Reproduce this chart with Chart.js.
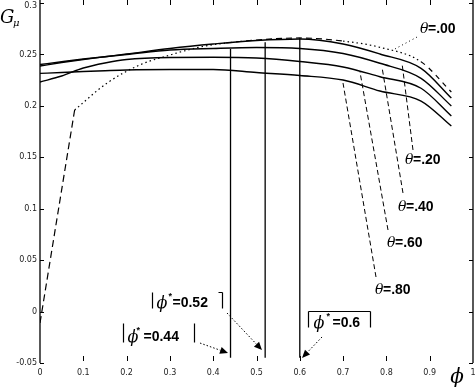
<!DOCTYPE html>
<html>
<head>
<meta charset="utf-8">
<script src="https://cdn.jsdelivr.net/npm/chart.js@4.4.0/dist/chart.umd.min.js"></script>
<style>
  html, body { margin: 0; padding: 0; background: #fff; }
  #wrap { position: relative; width: 476px; height: 387px; }
</style>
</head>
<body>
<div id="wrap"><canvas id="gmuChart"></canvas></div>
<script>
// phi grid used by the theta = .20 ... .80 curves
const phi = [0, 0.05, 0.1, 0.15, 0.2, 0.3, 0.4, 0.5, 0.6, 0.7, 0.785, 0.88, 0.95];
const g20 = [0.2387, 0.2421, 0.2451, 0.2478, 0.2504, 0.2558, 0.2601, 0.2635, 0.2650, 0.2601, 0.2504, 0.2365, 0.2076];
const g40 = [0.2402, 0.2429, 0.2455, 0.2478, 0.2499, 0.2543, 0.2558, 0.2567, 0.2558, 0.2509, 0.2414, 0.2268, 0.1999];
const g60 = [0.2232, 0.2290, 0.2368, 0.2417, 0.2451, 0.2470, 0.2472, 0.2465, 0.2431, 0.2378, 0.2283, 0.2171, 0.1901];
const g80 = [0.2316, 0.2324, 0.2334, 0.2342, 0.2349, 0.2353, 0.2353, 0.2324, 0.2295, 0.2251, 0.2144, 0.2047, 0.1804];

// theta = .00 has its own grid (straight steep rise up to phi = 0.08)
const phi00 = [0, 0.08, 0.155, 0.23, 0.3, 0.37, 0.43, 0.5, 0.6, 0.7, 0.785, 0.88, 0.95];
const g00 = [-0.0111, 0.1960, 0.2222, 0.2397, 0.2494, 0.2572, 0.2611, 0.2640, 0.2660, 0.2630, 0.2569, 0.2429, 0.2135];

// optimal phi markers
const phiStar = [0.44, 0.52, 0.6];
const phiStarTop = [0.2553, 0.2618, 0.2660];
const phiStarBottom = -0.045;

const xTicks = [0, 0.1, 0.2, 0.3, 0.4, 0.5, 0.6, 0.7, 0.8, 0.9, 1];
const xTickLabels = ['0', '0.1', '0.2', '0.3', '0.4', '0.5', '0.6', '0.7', '0.8', '0.9', '1'];
const yTicks = [-0.05, 0, 0.05, 0.1, 0.15, 0.2, 0.25, 0.3];
const yTickLabels = ['-0.05', '0', '0.05', '0.1', '0.15', '0.2', '0.25', '0.3'];

const toPts = (xs, ys) => xs.map((x, i) => ({ x: x, y: ys[i] }));

// dash pattern of the smooth part of theta = .00, by segment (index from phi = 0.08)
const dash00 = i => {
  if (i <= 4) return [1.5, 3];
  if (i <= 7) return [6, 4];
  if (i <= 9) return [1.5, 3];
  return [5, 5];
};

const solid = (data) => ({
  data: data,
  borderColor: '#000',
  borderWidth: 1.4,
  pointRadius: 0,
  fill: false,
  cubicInterpolationMode: 'monotone'
});

const pts00 = toPts(phi00, g00);
const datasets = [
  {
    // straight dashed rise
    data: pts00.slice(0, 2),
    borderColor: '#000',
    borderWidth: 1.2,
    pointRadius: 0,
    tension: 0,
    borderDash: [7, 4]
  },
  {
    data: pts00.slice(1),
    borderColor: '#000',
    borderWidth: 1.2,
    pointRadius: 0,
    fill: false,
    cubicInterpolationMode: 'monotone',
    segment: { borderDash: ctx => dash00(ctx.p0DataIndex) }
  },
  solid(toPts(phi, g20)),
  solid(toPts(phi, g40)),
  solid(toPts(phi, g60)),
  solid(toPts(phi, g80))
];
phiStar.forEach((p, i) => {
  datasets.push({
    data: [{ x: p, y: phiStarBottom }, { x: p, y: phiStarTop[i] }],
    borderColor: '#000',
    borderWidth: 1.3,
    pointRadius: 0,
    tension: 0
  });
});

// annotations, positioned in data units
const thetaNotes = [
  { text: '=.00', at: [0.8776, 0.2757], from: [0.8707, 0.2669], to: [0.8152, 0.2543], dash: [1, 3] },
  { text: '=.20', at: [0.843, 0.1483], from: [0.8614, 0.1571], to: [0.836, 0.2417], dash: [5, 3] },
  { text: '=.40', at: [0.8268, 0.1026], from: [0.8383, 0.1153], to: [0.7898, 0.2378], dash: [5, 3] },
  { text: '=.60', at: [0.8014, 0.0676], from: [0.8037, 0.0793], to: [0.739, 0.2329], dash: [5, 3] },
  { text: '=.80', at: [0.7737, 0.0219], from: [0.776, 0.0336], to: [0.6998, 0.2222], dash: [5, 3] }
];
const starNotes = [
  { text: '=0.52', at: [0.2587, 0.019], w: 70, h: 16, shape: 'bracket', phiDx: 4, starDx: 16, eqDx: 20, dy: 11,
    arrow: [[0.4319, -0.0014], [0.5127, -0.0374]] },
  { text: '=0.44', at: [0.1917, -0.0111], w: 71, h: 19, shape: 'bars', phiDx: 4, starDx: 13, eqDx: 20, dy: 14,
    arrow: [[0.3695, -0.0306], [0.4342, -0.0403]] },
  { text: '=0.6', at: [0.619, 0.0006], w: 62, h: 16, shape: 'box', phiDx: 5, starDx: 18, eqDx: 24, dy: 12,
    arrow: [[0.6513, -0.0247], [0.6051, -0.0451]] }
];

const decor = {
  id: 'decor',
  afterDraw(chart) {
    const c = chart.ctx;
    const xs = chart.scales.x, ys = chart.scales.y;
    const a = chart.chartArea;
    const px = v => xs.getPixelForValue(v);
    const py = v => ys.getPixelForValue(v);

    c.save();
    c.strokeStyle = '#000';
    c.fillStyle = '#000';
    c.lineWidth = 1.3;

    // frame: left and right sides only
    c.beginPath();
    c.moveTo(a.left, 0); c.lineTo(a.left, a.bottom);
    c.moveTo(a.right, 0); c.lineTo(a.right, a.bottom);
    c.stroke();

    // inward ticks
    c.lineWidth = 1;
    c.beginPath();
    xTicks.forEach(t => {
      if (t === 0 || t === 1) return;
      const x = Math.round(px(t)) + 0.5;
      c.moveTo(x, a.bottom - 7); c.lineTo(x, a.bottom - 2);
      c.moveTo(x, 0); c.lineTo(x, 5);
    });
    yTicks.forEach(t => {
      const y = Math.round(py(t)) + 0.5;
      c.moveTo(a.left, y); c.lineTo(a.left + 4, y);
      c.moveTo(a.right, y); c.lineTo(a.right - 4, y);
    });
    c.stroke();

    // tick labels
    c.fillStyle = '#222';
    c.font = '8px "DejaVu Sans"';
    c.textAlign = 'center';
    c.textBaseline = 'middle';
    xTicks.forEach((t, i) => c.fillText(xTickLabels[i], px(t), a.bottom + 10));
    c.textAlign = 'right';
    yTicks.forEach((t, i) => {
      const y = py(t) + (t === 0.3 ? 3 : 0);
      c.fillText(yTickLabels[i], a.left - 3, y);
    });

    // axis titles
    c.fillStyle = '#000';
    c.textAlign = 'left';
    c.textBaseline = 'alphabetic';
    c.font = 'italic 18px "DejaVu Serif"';
    c.fillText('G', 0, 23);
    c.font = 'italic 10px "DejaVu Serif"';
    c.fillText('\u03bc', 13, 26);
    c.font = 'italic 20px "DejaVu Serif"';
    c.textAlign = 'center';
    c.fillText('\u03d5', 457, 383);

    // theta labels with leaders
    thetaNotes.forEach(n => {
      c.setLineDash(n.dash);
      c.lineWidth = 1;
      c.beginPath();
      c.moveTo(px(n.from[0]), py(n.from[1]));
      c.lineTo(px(n.to[0]), py(n.to[1]));
      c.stroke();
      c.setLineDash([]);
      const x = px(n.at[0]), y = py(n.at[1]);
      c.textAlign = 'left';
      c.textBaseline = 'middle';
      c.font = 'italic 14px "DejaVu Serif"';
      c.fillText('\u03b8', x, y + 1);
      c.font = 'bold 14px "Liberation Sans"';
      c.fillText(n.text, x + 8, y + 1);
    });

    // phi* boxes with dotted arrows
    starNotes.forEach(n => {
      const x = Math.round(px(n.at[0])) + 0.5, y = Math.round(py(n.at[1])) + 0.5;
      c.lineWidth = 1.2;
      c.beginPath();
      c.moveTo(x, y); c.lineTo(x, y + n.h);
      c.moveTo(x + n.w, y); c.lineTo(x + n.w, y + n.h);
      if (n.shape === 'bracket') { c.moveTo(x + n.w - 4, y); c.lineTo(x + n.w, y); }
      if (n.shape === 'box') { c.moveTo(x, y); c.lineTo(x + n.w, y); }
      c.stroke();

      c.textAlign = 'left';
      c.textBaseline = 'middle';
      c.font = 'italic 16px "DejaVu Serif"';
      c.fillText('\u03d5', x + n.phiDx, y + n.dy);
      c.font = 'bold 9px "Liberation Sans"';
      c.fillText('*', x + n.starDx, y + n.dy - 7);
      c.font = 'bold 14px "Liberation Sans"';
      c.fillText(n.text, x + n.eqDx, y + n.dy);

      const x0 = px(n.arrow[0][0]), y0 = py(n.arrow[0][1]);
      const x1 = px(n.arrow[1][0]), y1 = py(n.arrow[1][1]);
      const ang = Math.atan2(y1 - y0, x1 - x0);
      const L = 8, W = 3.5;
      const bx = x1 - L * Math.cos(ang), by = y1 - L * Math.sin(ang);
      c.setLineDash([1.5, 2]);
      c.lineWidth = 1;
      c.beginPath();
      c.moveTo(x0, y0); c.lineTo(bx, by);
      c.stroke();
      c.setLineDash([]);
      c.beginPath();
      c.moveTo(x1, y1);
      c.lineTo(bx + W * Math.sin(ang), by - W * Math.cos(ang));
      c.lineTo(bx - W * Math.sin(ang), by + W * Math.cos(ang));
      c.closePath();
      c.fill();
    });

    c.restore();
  }
};

new Chart(document.getElementById('gmuChart').getContext('2d'), {
  type: 'line',
  data: { datasets: datasets },
  options: {
    responsive: true,
    maintainAspectRatio: false,
    animation: false,
    layout: { padding: { left: 40, right: 3, top: 3, bottom: 24 } },
    plugins: { legend: { display: false }, tooltip: { enabled: false } },
    scales: {
      x: { type: 'linear', min: 0, max: 1, display: false },
      y: { type: 'linear', min: -0.05, max: 0.3, display: false }
    }
  },
  plugins: [decor]
});
</script>
</body>
</html>
